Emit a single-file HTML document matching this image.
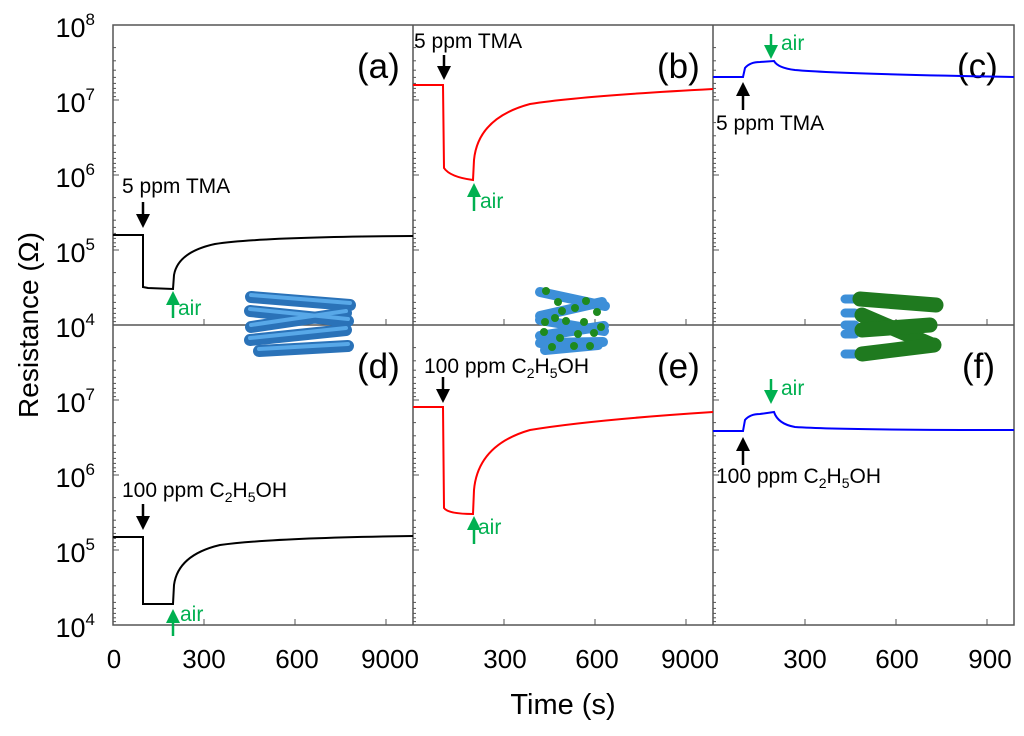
<!DOCTYPE html>
<html><head><meta charset="utf-8"><style>
html,body{margin:0;padding:0;background:#fff;}
svg{display:block;font-family:"Liberation Sans",Arial,sans-serif;}
</style></head><body>
<svg width="1024" height="736" viewBox="0 0 1024 736" xmlns="http://www.w3.org/2000/svg">
<defs>
<g id="yt">
 <line x1="0" y1="0" x2="6" y2="0"/>
 <line x1="0" y1="22.6" x2="3" y2="22.6"/><line x1="0" y1="35.8" x2="3" y2="35.8"/>
 <line x1="0" y1="45.2" x2="3" y2="45.2"/><line x1="0" y1="52.4" x2="3" y2="52.4"/>
 <line x1="0" y1="58.4" x2="3" y2="58.4"/><line x1="0" y1="63.4" x2="3" y2="63.4"/>
 <line x1="0" y1="67.8" x2="3" y2="67.8"/><line x1="0" y1="71.6" x2="3" y2="71.6"/>
</g>
</defs>
<g fill="none" stroke="#555" stroke-width="1.5">
 <rect x="113" y="25" width="901" height="600"/>
 <line x1="113" y1="325" x2="1014" y2="325"/>
 <line x1="413" y1="25" x2="413" y2="625"/>
 <line x1="713" y1="25" x2="713" y2="625"/>
</g>
<g stroke="#555" stroke-width="1">
 <use href="#yt" x="113" y="25"/><use href="#yt" x="113" y="100"/><use href="#yt" x="113" y="175"/><use href="#yt" x="113" y="250"/>
 <use href="#yt" x="113" y="325"/><use href="#yt" x="113" y="400"/><use href="#yt" x="113" y="475"/><use href="#yt" x="113" y="550"/>
 <use href="#yt" x="413" y="25"/><use href="#yt" x="413" y="100"/><use href="#yt" x="413" y="175"/><use href="#yt" x="413" y="250"/>
 <use href="#yt" x="413" y="325"/><use href="#yt" x="413" y="400"/><use href="#yt" x="413" y="475"/><use href="#yt" x="413" y="550"/>
 <use href="#yt" x="713" y="25"/><use href="#yt" x="713" y="100"/><use href="#yt" x="713" y="175"/><use href="#yt" x="713" y="250"/>
 <use href="#yt" x="713" y="325"/><use href="#yt" x="713" y="400"/><use href="#yt" x="713" y="475"/><use href="#yt" x="713" y="550"/>
 <g id="xt"><line x1="204" y1="325" x2="204" y2="319"/><line x1="295" y1="325" x2="295" y2="319"/><line x1="386" y1="325" x2="386" y2="319"/>
 <line x1="204" y1="625" x2="204" y2="619"/><line x1="295" y1="625" x2="295" y2="619"/><line x1="386" y1="625" x2="386" y2="619"/></g>
 <use href="#xt" x="300"/><use href="#xt" x="601"/>
</g>
<g font-size="27" fill="#000" text-anchor="end">
 <text x="95" y="37">10<tspan font-size="17" dy="-12">8</tspan></text>
 <text x="95" y="112">10<tspan font-size="17" dy="-12">7</tspan></text>
 <text x="95" y="187">10<tspan font-size="17" dy="-12">6</tspan></text>
 <text x="95" y="262">10<tspan font-size="17" dy="-12">5</tspan></text>
 <text x="95" y="337">10<tspan font-size="17" dy="-12">4</tspan></text>
 <text x="95" y="412">10<tspan font-size="17" dy="-12">7</tspan></text>
 <text x="95" y="487">10<tspan font-size="17" dy="-12">6</tspan></text>
 <text x="95" y="562">10<tspan font-size="17" dy="-12">5</tspan></text>
 <text x="95" y="637">10<tspan font-size="17" dy="-12">4</tspan></text>
</g>
<text transform="translate(38,325) rotate(-90)" font-size="28" text-anchor="middle">Resistance (Ω)</text>
<g font-size="26" text-anchor="middle">
 <text x="114" y="668">0</text><text x="204" y="668">300</text><text x="297" y="668">600</text><text x="390" y="668">9000</text>
 <text x="505" y="668">300</text><text x="597" y="668">600</text><text x="690" y="668">9000</text>
 <text x="805" y="668">300</text><text x="897" y="668">600</text><text x="990" y="668">900</text>
</g>
<text x="563" y="714" font-size="29" text-anchor="middle">Time (s)</text>
<g font-size="35">
 <text x="357" y="78">(a)</text><text x="657" y="78">(b)</text><text x="957" y="78">(c)</text>
 <text x="357" y="378">(d)</text><text x="657" y="378">(e)</text><text x="962" y="378">(f)</text>
</g>
<g fill="none" stroke-width="2">
 <path stroke="#000" d="M113,235 L143,235 L143,287 L148,288 L173,289 L174,275 Q178,252 215,244 Q260,237 413,236"/>
 <path stroke="#f00" d="M413,85 L443,85 L444,168 Q450,177 473,180 L474,160 Q478,118 530,104 Q580,96 713,89"/>
 <path stroke="#00f" d="M713,77 L743,77 L745,68 Q750,62 760,62 L774,61 Q778,68 795,70 Q840,74 1014,77"/>
 <path stroke="#000" d="M113,537 L143,537 L143,604 L173,604 L174,585 Q178,555 220,545 Q270,538 413,536"/>
 <path stroke="#f00" d="M413,407 L443,407 L444,508 Q448,514 473,514 L474,490 Q478,445 530,430 Q590,420 713,412"/>
 <path stroke="#00f" d="M713,431 L743,431 L745,420 Q750,414 760,414 L774,412 Q778,424 795,427 Q840,430 1014,430"/>
</g>
<g font-size="21">
 <text x="122" y="193">5 ppm TMA</text>
 <text x="414" y="48">5 ppm TMA</text>
 <text x="716" y="130">5 ppm TMA</text>
 <text x="122" y="497">100 ppm C<tspan font-size="14" dy="5">2</tspan><tspan dy="-5">H</tspan><tspan font-size="14" dy="5">5</tspan><tspan dy="-5">OH</tspan></text>
 <text x="424" y="373">100 ppm C<tspan font-size="14" dy="5">2</tspan><tspan dy="-5">H</tspan><tspan font-size="14" dy="5">5</tspan><tspan dy="-5">OH</tspan></text>
 <text x="716" y="483">100 ppm C<tspan font-size="14" dy="5">2</tspan><tspan dy="-5">H</tspan><tspan font-size="14" dy="5">5</tspan><tspan dy="-5">OH</tspan></text>
</g>
<g font-size="21" fill="#00b050">
 <text x="178" y="315">air</text><text x="480" y="208">air</text><text x="781" y="50">air</text>
 <text x="478" y="534">air</text><text x="180" y="621">air</text><text x="781" y="395">air</text>
</g>
<g stroke-width="2.5">
 <g stroke="#000" fill="#000">
  <line x1="143" y1="202" x2="143" y2="220"/><path d="M136,214 L150,214 L143,228Z" stroke="none"/>
  <line x1="444" y1="55" x2="444" y2="70"/><path d="M437,66 L451,66 L444,80Z" stroke="none"/>
  <line x1="743" y1="110" x2="743" y2="92"/><path d="M736,96 L750,96 L743,82Z" stroke="none"/>
  <line x1="143" y1="504" x2="143" y2="520"/><path d="M136,516 L150,516 L143,530Z" stroke="none"/>
  <line x1="443" y1="377" x2="443" y2="394"/><path d="M436,389 L450,389 L443,403Z" stroke="none"/>
  <line x1="743" y1="465" x2="743" y2="447"/><path d="M736,451 L750,451 L743,437Z" stroke="none"/>
 </g>
 <g stroke="#00b050" fill="#00b050">
  <line x1="173" y1="318" x2="173" y2="302"/><path d="M166,305 L180,305 L173,291Z" stroke="none"/>
  <line x1="474" y1="211" x2="474" y2="194"/><path d="M467,197 L481,197 L474,183Z" stroke="none"/>
  <line x1="771" y1="34" x2="771" y2="48"/><path d="M764,45 L778,45 L771,59Z" stroke="none"/>
  <line x1="474" y1="544" x2="474" y2="527"/><path d="M467,530 L481,530 L474,516Z" stroke="none"/>
  <line x1="173" y1="636" x2="173" y2="620"/><path d="M166,623 L180,623 L173,609Z" stroke="none"/>
  <line x1="771" y1="379" x2="771" y2="393"/><path d="M764,390 L778,390 L771,404Z" stroke="none"/>
 </g>
</g>
<g stroke-linecap="round" fill="none">
 <g stroke="#2a72b8" stroke-width="12">
  <line x1="251" y1="297" x2="350" y2="305"/><line x1="250" y1="311" x2="348" y2="321"/>
  <line x1="251" y1="327" x2="346" y2="313"/><line x1="250" y1="340" x2="346" y2="330"/>
  <line x1="259" y1="351" x2="348" y2="346"/>
 </g>
 <g stroke="#58a8e8" stroke-width="4">
  <line x1="251" y1="295" x2="350" y2="303"/><line x1="250" y1="309" x2="348" y2="319"/>
  <line x1="251" y1="325" x2="346" y2="311"/><line x1="250" y1="338" x2="346" y2="328"/>
  <line x1="259" y1="349" x2="348" y2="344"/>
 </g>
 <g stroke="#3d8fd8" stroke-width="10">
  <line x1="540" y1="292" x2="605" y2="306"/><line x1="540" y1="316" x2="602" y2="302"/>
  <line x1="540" y1="320" x2="604" y2="331"/><line x1="540" y1="336" x2="604" y2="326"/>
  <line x1="540" y1="343" x2="603" y2="342"/><line x1="545" y1="350" x2="598" y2="345"/>
 </g>
 <g stroke="#3d8fd8" stroke-width="9">
  <line x1="845" y1="299" x2="855" y2="299"/><line x1="845" y1="313" x2="855" y2="313"/>
  <line x1="845" y1="325" x2="855" y2="325"/><line x1="845" y1="334" x2="855" y2="334"/>
  <line x1="845" y1="354" x2="855" y2="354"/>
 </g>
 <g stroke="#1f7a1f" stroke-width="15">
  <line x1="860" y1="299" x2="936" y2="305"/><line x1="862" y1="315" x2="932" y2="345"/>
  <line x1="862" y1="330" x2="930" y2="325"/><line x1="862" y1="354" x2="934" y2="345"/>
 </g>
</g>
<g fill="#1e8a1e">
 <circle cx="546" cy="291" r="4"/><circle cx="558" cy="302" r="4"/><circle cx="586" cy="301" r="4"/>
 <circle cx="562" cy="311" r="4"/><circle cx="575" cy="308" r="4"/><circle cx="597" cy="312" r="4"/>
 <circle cx="545" cy="322" r="4"/><circle cx="555" cy="318" r="4"/><circle cx="566" cy="321" r="4"/>
 <circle cx="584" cy="322" r="4"/><circle cx="601" cy="327" r="4"/><circle cx="544" cy="332" r="4"/>
 <circle cx="560" cy="338" r="4"/><circle cx="578" cy="334" r="4"/><circle cx="594" cy="333" r="4"/>
 <circle cx="552" cy="347" r="4"/><circle cx="574" cy="346" r="4"/><circle cx="590" cy="346" r="4"/>
</g>
</svg>
</body></html>
